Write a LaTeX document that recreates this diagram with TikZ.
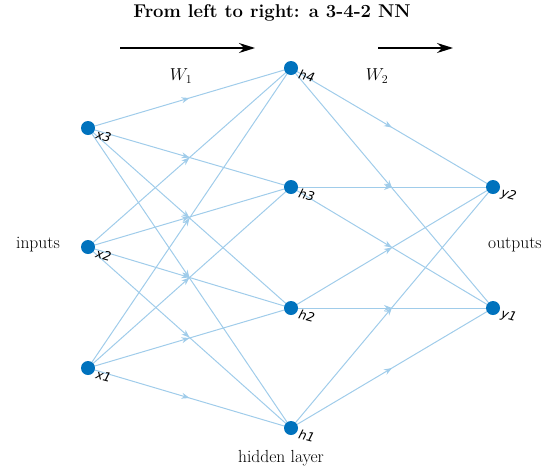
\documentclass[tikz,border=0pt]{standalone}
\usepackage{fontspec}
\newfontfamily\lblfont{DejaVu Sans}
\usetikzlibrary{arrows.meta,decorations.markings}
\definecolor{nodeblue}{RGB}{0,114,189}
\definecolor{edgeblue}{RGB}{160,204,234}
\tikzset{
  nlabel/.style={font=\lblfont\itshape\fontsize{12.5}{13}\selectfont,rotate=-15,anchor=west,inner sep=0pt},
  link/.style={draw=edgeblue,line width=1pt,postaction={decorate},
    decoration={markings,mark=at position 0.5 with {\arrow[edgeblue]{Stealth[length=8pt,width=6pt]}}}},
  bigarrow/.style={draw=black,line width=1.3pt,-{Stealth[length=16pt,width=10pt]}},
  caption/.style={font=\fontsize{17.5}{19}\selectfont}
}
\begin{document}
\begin{tikzpicture}[x=1pt,y=-1pt]
\useasboundingbox (0,0) rectangle (545,472);
% node positions
\coordinate (x3) at (88,128);
\coordinate (x2) at (88,247);
\coordinate (x1) at (88,368);
\coordinate (h4) at (291,68);
\coordinate (h3) at (291,187);
\coordinate (h2) at (291,308);
\coordinate (h1) at (291,428);
\coordinate (y2) at (493,187);
\coordinate (y1) at (493,308);
% edges
\foreach \a in {x1,x2,x3}{
  \foreach \b in {h1,h2,h3,h4}{
    \path[link] (\a) -- (\b);
  }
}
\foreach \a in {h1,h2,h3,h4}{
  \foreach \b in {y1,y2}{
    \path[link] (\a) -- (\b);
  }
}
% neurons
\foreach \n in {x3,x2,x1,h4,h3,h2,h1,y2,y1}{
  \fill[nodeblue] (\n) circle (7pt);
}
% labels
\node[nlabel] (lx3) at (96,134) {x3};
\node[nlabel] (lx2) at (96,253) {x2};
\node[nlabel] (lx1) at (96,374) {x1};
\node[nlabel] (lh4) at (299,74) {h4};
\node[nlabel] (lh3) at (299,193) {h3};
\node[nlabel] (lh2) at (299,314) {h2};
\node[nlabel] (lh1) at (299,434) {h1};
\node[nlabel] (ly2) at (501,193) {y2};
\node[nlabel] (ly1) at (501,314) {y1};
% captions
\node[font=\bfseries\fontsize{18.5}{20}\selectfont] (title) at (272,13) {From left to right: a 3-4-2 NN};
\coordinate (a1s) at (120,48);
\coordinate (a1e) at (255,48);
\coordinate (a2s) at (378,48);
\coordinate (a2e) at (453,48);
\draw[bigarrow] (a1s) -- (a1e);
\draw[bigarrow] (a2s) -- (a2e);
\node[caption] (w1) at (181,76) {$W_1$};
\node[caption] (w2) at (377,76) {$W_2$};
\node[caption] (inputs) at (38,245) {inputs};
\node[caption] (outputs) at (515,245) {outputs};
\node[caption] (hidden) at (281,458) {hidden layer};
\end{tikzpicture}
\end{document}
